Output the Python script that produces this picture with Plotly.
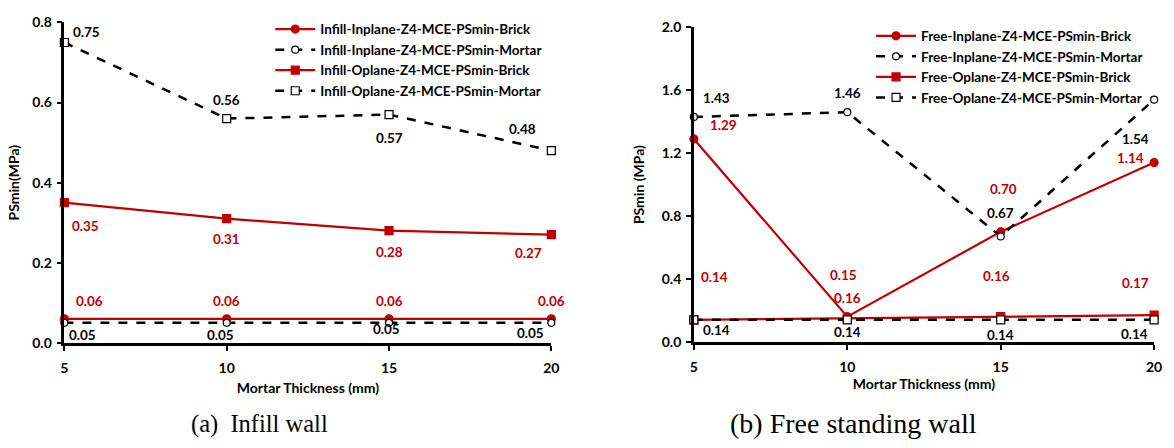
import plotly.graph_objects as go

# ---------------- data ----------------
thickness = [5, 10, 15, 20]

infill_names = [
    "Infill-Inplane-Z4-MCE-PSmin-Brick",
    "Infill-Inplane-Z4-MCE-PSmin-Mortar",
    "Infill-Oplane-Z4-MCE-PSmin-Brick",
    "Infill-Oplane-Z4-MCE-PSmin-Mortar",
]
infill_inplane_brick = [0.06, 0.06, 0.06, 0.06]
infill_inplane_mortar = [0.05, 0.05, 0.05, 0.05]
infill_oplane_brick = [0.35, 0.31, 0.28, 0.27]
infill_oplane_mortar = [0.75, 0.56, 0.57, 0.48]

free_names = [
    "Free-Inplane-Z4-MCE-PSmin-Brick",
    "Free-Inplane-Z4-MCE-PSmin-Mortar",
    "Free-Oplane-Z4-MCE-PSmin-Brick",
    "Free-Oplane-Z4-MCE-PSmin-Mortar",
]
free_inplane_brick = [1.29, 0.16, 0.70, 1.14]
free_inplane_mortar = [1.43, 1.46, 0.67, 1.54]
free_oplane_brick = [0.14, 0.15, 0.16, 0.17]
free_oplane_mortar = [0.14, 0.14, 0.14, 0.14]

left_yticks = [0.0, 0.2, 0.4, 0.6, 0.8]
right_yticks = [0.0, 0.4, 0.8, 1.2, 1.6, 2.0]
x_title = "Mortar Thickness (mm)"
left_ytitle = "PSmin(MPa)"
right_ytitle = "PSmin (MPa)"
captions = ["(a)  Infill wall", "(b) Free standing wall"]

# ---------------- styles ----------------
RED = "#C00000"
BLACK = "#000000"
FONT = "Lato"
W, H = 1174, 448

styles = [
    dict(color=RED, dash="solid", symbol="circle", fill=RED, size=8, width=2.2),
    dict(color=BLACK, dash="dash", symbol="circle", fill="white", size=7, width=2.5),
    dict(color=RED, dash="solid", symbol="square", fill=RED, size=8, width=2.2),
    dict(color=BLACK, dash="dash", symbol="square", fill="white", size=8, width=2.5),
]

# label offsets (xshift, yshift) per series per point
left_offsets = [
    [(25, 18), (0, 18), (0, 18), (0, 18)],
    [(18, -12), (-6, -12), (-3, -6), (-21, -10)],
    [(21, -23), (0, -20), (0, -21), (-23, -18)],
    [(22, 10), (0, 19), (0, -23), (-29, 22)],
]
right_offsets = [
    [(30, 14), (0, 19), (3, 43), (-24, 5)],
    [(23, 19), (0, 19), (0, 23), (-19, -39)],
    [(21, 43), (-4, 43), (-4, 41), (-19, 32)],
    [(23, -10), (0, -12), (0, -15), (-20, -14)],
]

fig = go.Figure()

panels = [
    dict(names=infill_names,
         series=[infill_inplane_brick, infill_inplane_mortar, infill_oplane_brick, infill_oplane_mortar],
         xa="x", ya="y", legend="legend", offsets=left_offsets),
    dict(names=free_names,
         series=[free_inplane_brick, free_inplane_mortar, free_oplane_brick, free_oplane_mortar],
         xa="x2", ya="y2", legend="legend2", offsets=right_offsets),
]

annotations = []
for p in panels:
    for name, vals, st, offs in zip(p["names"], p["series"], styles, p["offsets"]):
        fig.add_trace(go.Scatter(
            x=thickness, y=vals, name=name, mode="lines+markers",
            xaxis=p["xa"], yaxis=p["ya"], legend=p["legend"], cliponaxis=False,
            line=dict(color=st["color"], dash=st["dash"], width=st["width"]),
            marker=dict(symbol=st["symbol"], size=st["size"], color=st["fill"],
                        line=dict(color=st["color"], width=1.2)),
        ))
        for xv, yv, (dx, dy) in zip(thickness, vals, offs):
            annotations.append(dict(
                x=xv, y=yv, xref=p["xa"], yref=p["ya"], text=f"{yv:.2f}",
                showarrow=False, xshift=dx, yshift=dy,
                font=dict(family=FONT, size=13.5, color=st["color"], weight="bold"),
            ))

# captions
annotations.append(dict(x=258.5 / W, y=1 - 431 / H, xref="paper", yref="paper", text=captions[0],
                        xanchor="center", yanchor="middle", showarrow=False,
                        font=dict(family="Liberation Serif", size=24.5, color="black", weight="normal")))
annotations.append(dict(x=858 / W, y=1 - 431 / H, xref="paper", yref="paper", text=captions[1],
                        xanchor="center", yanchor="middle", showarrow=False,
                        font=dict(family="Liberation Serif", size=28, color="black", weight="normal")))

axis_common = dict(showgrid=False, zeroline=False, showline=True, linecolor="black", linewidth=2.5,
                   ticks="outside", ticklen=5, tickwidth=2, tickcolor="black",
                   tickfont=dict(family=FONT, size=14, color="black", weight="bold"))
title_font = dict(family=FONT, size=14, color="black", weight="bold")

fig.update_layout(
    width=W, height=H, margin=dict(l=0, r=0, t=0, b=0),
    plot_bgcolor="white", paper_bgcolor="white",
    font=dict(family=FONT, size=12, color="black", weight="bold"),
    xaxis=dict(domain=[61 / W, 553 / W], range=[5, 20], tickvals=thickness, anchor="y",
               ticklabelstandoff=6,
               title=dict(text=x_title, standoff=8, font=title_font),
               **axis_common),
    yaxis=dict(domain=[1 - 347 / H, 1 - 14 / H], range=[0, 0.8], tickvals=left_yticks, tickformat=".1f",
               anchor="x", ticklabelstandoff=2,
               title=dict(text=left_ytitle, standoff=10, font=title_font),
               **axis_common),
    xaxis2=dict(domain=[697 / W, 1162 / W], range=[5, 20], tickvals=thickness, anchor="y2",
                ticklabelstandoff=6,
                title=dict(text=x_title, standoff=4, font=title_font),
                **axis_common),
    yaxis2=dict(domain=[1 - 346 / H, 1 - 19 / H], range=[0, 2.0], tickvals=right_yticks, tickformat=".1f",
                anchor="x2", ticklabelstandoff=2,
                title=dict(text=right_ytitle, standoff=14, font=title_font),
                **axis_common),
    legend=dict(x=269 / W, y=1 - 5 / H, xanchor="left", yanchor="top", bgcolor="rgba(255,255,255,0)",
                font=dict(family=FONT, size=13.5, weight="bold", color="black"), tracegroupgap=0, itemwidth=40),
    legend2=dict(x=876 / W, y=1 - 12 / H, xanchor="left", yanchor="top", bgcolor="rgba(255,255,255,0)",
                 font=dict(family=FONT, size=13.5, weight="bold", color="black"), tracegroupgap=0, itemwidth=40),
    annotations=annotations,
    showlegend=True,
)

fig.write_html("out.html")
